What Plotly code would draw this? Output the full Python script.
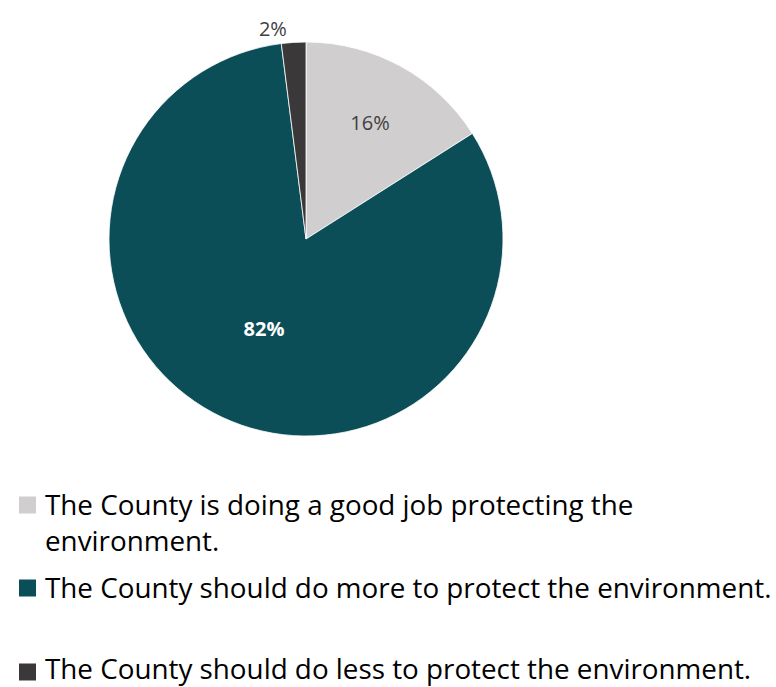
import plotly.graph_objects as go

labels = [
    "The County is doing a good job protecting the environment.",
    "The County should do more to protect the environment.",
    "The County should do less to protect the environment.",
]
legend_lines = [
    "The County is doing a good job protecting the<br>environment.",
    "The County should do more to protect the environment.",
    "The County should do less to protect the environment.",
]
values = [16, 82, 2]
colors = ["#d0cece", "#0b4e58", "#3a3838"]
text_colors = ["#404040", "#ffffff", "#404040"]
text_weights = ["normal", "bold", "normal"]
text_positions = ["inside", "inside", "outside"]

W, H = 776, 687


def px(x):
    return x / W


def py(y):
    return 1 - y / H


cx, cy, r = 306, 239, 197

fig = go.Figure()
fig.add_trace(go.Pie(
    labels=labels,
    values=values,
    sort=False,
    direction="clockwise",
    rotation=0,
    marker=dict(colors=colors, line=dict(color="#ffffff", width=0.8)),
    texttemplate="%{percent:.0%}",
    textposition=text_positions,
    insidetextorientation="horizontal",
    textfont=dict(family="Open Sans", size=20, color=text_colors, weight=text_weights),
    outsidetextfont=dict(family="Open Sans", size=20, color="#404040"),
    showlegend=False,
    hoverinfo="label+percent",
    domain=dict(x=[px(cx - r), px(cx + r)], y=[py(cy + r), py(cy - r)]),
))

# manual legend
legend_y_text = [522, 587, 668]
legend_y_box = [505, 588, 672]
box = 17
for i, lab in enumerate(legend_lines):
    yb = legend_y_box[i]
    fig.add_shape(type="rect", xref="paper", yref="paper",
                  x0=px(19), x1=px(19 + box),
                  y0=py(yb + box / 2), y1=py(yb - box / 2),
                  fillcolor=colors[i], line=dict(width=0))
    fig.add_annotation(xref="paper", yref="paper", x=px(43), y=py(legend_y_text[i]),
                       xanchor="left", yanchor="middle", align="left", showarrow=False,
                       text=lab, font=dict(family="Open Sans", size=27.8, color="#000000"))

fig.update_layout(
    width=W, height=H,
    margin=dict(l=0, r=0, t=0, b=0),
    paper_bgcolor="#ffffff",
    plot_bgcolor="#ffffff",
)
fig.write_html("out.html", config={"displayModeBar": False},
               post_script="document.body.style.margin='0';")
